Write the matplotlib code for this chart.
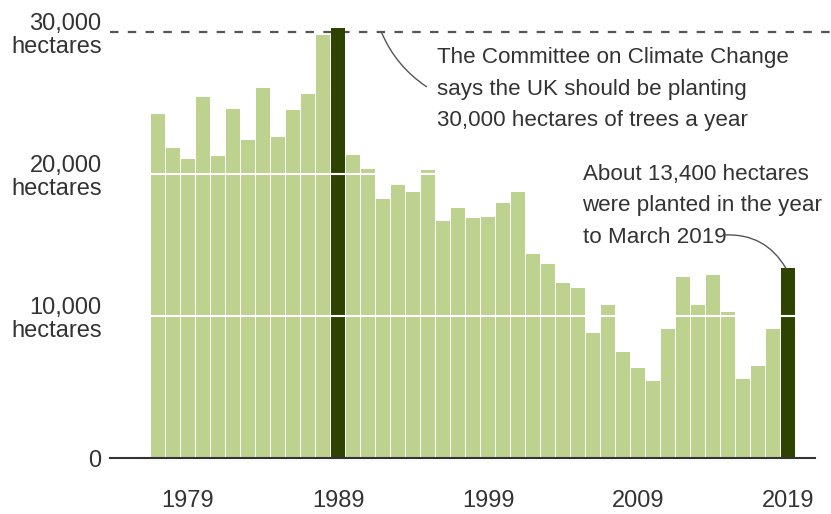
"""
UK tree planting per year, 1977-2019 (hectares)
"""

import matplotlib.pyplot as plt
import numpy as np

plt.rcParams['font.family'] = ['Liberation Sans', 'DejaVu Sans']

# data
years = list(range(1977, 2020))
hectares = [24270, 21850, 21080, 25420, 21290, 24620, 22390, 26060, 22600, 24500,
            25630, 29800, 30300, 21360, 20350, 18240, 19250, 18780, 20300, 16710,
            17600, 16900, 17010, 17960, 18780, 14390, 13700, 12370, 11970, 8800,
            10800, 7510, 6380, 5420, 9080, 12770, 10800, 12890, 10280, 5610,
            6480, 9080, 13400]
highlight_years = [1989, 2019]
tick_years = [1979, 1989, 1999, 2009, 2019]
y_ticks = [0, 10000, 20000, 30000]
y_labels = ['0', '10,000\nhectares', '20,000\nhectares', '30,000\nhectares']
target = 30000

LIGHT = '#bed290'
DARK = '#2e4300'
TEXT = '#333333'

W, H = 831, 514
fig = plt.figure(figsize=(W / 100, H / 100), dpi=100)
# axes placed in pixel terms: left 110, right 815, baseline at y=458
ax = fig.add_axes([110 / W, (H - 458.3) / H, (815 - 110) / W, (458.3 - 10) / H])

colors = [DARK if y in highlight_years else LIGHT for y in years]
ax.bar(years, hectares, width=0.87, color=colors, zorder=2)

ax.set_xlim(1973.8, 2020.8)
ax.set_ylim(0, 31570)

# white gridlines over the bars
for v in y_ticks[1:3]:
    ax.axhline(v, color='white', lw=1.5, zorder=3)

# dashed target line, running past the right edge of the axes
ax.plot([0, 1.03], [target, target], transform=ax.get_yaxis_transform(),
        color='#555555', lw=1.6, dashes=(3.8, 4.2), clip_on=False, zorder=1)

for s in ['top', 'right', 'left']:
    ax.spines[s].set_visible(False)
ax.spines['bottom'].set_color('#333333')
ax.spines['bottom'].set_linewidth(1.5)
ax.spines['bottom'].set_zorder(4)

ax.set_xticks(tick_years)
ax.set_xticklabels([str(y) for y in tick_years])
ax.set_yticks(y_ticks)
ax.set_yticklabels(y_labels)
ax.tick_params(axis='x', length=0, pad=23, labelsize=17, labelcolor=TEXT)
ax.tick_params(axis='y', length=0, pad=6, labelsize=17, labelcolor=TEXT)
for lab in ax.get_yticklabels():
    lab.set_linespacing(1.05)

# annotations
ax.text(1995.6, 28930, 'The Committee on Climate Change\nsays the UK should be planting\n'
        '30,000 hectares of trees a year', fontsize=16.1, color=TEXT,
        va='top', ha='left', linespacing=1.63)
ax.annotate('', xy=(1994.9, 26170), xytext=(1991.9, target),
            arrowprops=dict(arrowstyle='-', color='#555555', lw=1.0,
                            shrinkA=0, shrinkB=0,
                            connectionstyle='arc3,rad=0.15'))

ax.text(2005.3, 20700, 'About 13,400 hectares\nwere planted in the year\nto March 2019',
        fontsize=16.1, color=TEXT, va='top', ha='left', linespacing=1.63)
ax.annotate('', xy=(2018.85, 13400), xytext=(2014.8, 15730),
            arrowprops=dict(arrowstyle='-', color='#555555', lw=1.0,
                            shrinkA=0, shrinkB=0,
                            connectionstyle='arc3,rad=-0.3'))

fig.savefig('out.png', dpi=100)
